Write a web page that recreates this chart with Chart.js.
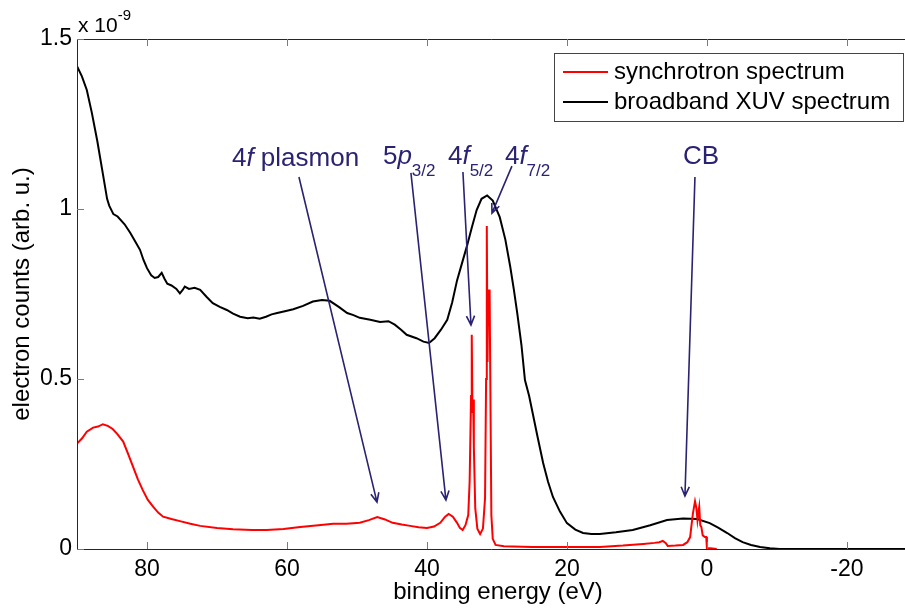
<!DOCTYPE html>
<html>
<head>
<meta charset="utf-8">
<script src="https://cdn.jsdelivr.net/npm/chart.js@4.4.1/dist/chart.umd.min.js"></script>
<style>
  html, body { margin: 0; padding: 0; background: #ffffff; }
  #wrap { width: 905px; height: 610px; position: relative; }
</style>
</head>
<body>
<div id="wrap"><canvas id="spectrum" width="905" height="610"></canvas></div>
<script>
// Binding energy (eV) and electron counts (units of 1e-9, arb. u.)
const synchrotronEnergy = [
  90, 89.3, 88.6, 87.7, 87, 86.3, 85.6, 84.9, 84.2, 83.4, 82.7, 82, 81.3, 80.6, 79.9, 79.1,
  78.4, 77.7, 76.5, 75.3, 73.8, 72.4, 70, 67.7, 65, 62.9, 60.5, 58.1, 55.5, 53.4, 51.5, 49.6,
  48.3, 47.1, 46, 44.9, 43.6, 42.4, 41.2, 40, 39, 38.1, 37.4, 36.9, 36.3, 35.7, 35.3, 34.9,
  34.5, 34.1, 33.9, 33.7, 33.6, 33.5, 33.4, 33.3, 33.1, 32.8, 32.4, 32.0, 31.7, 31.55, 31.45,
  31.35, 31.25, 31.05, 30.95, 30.8, 30.6, 30.2, 29, 25, 20, 15.3, 12, 9.1, 7.5, 6.8, 6.3, 5.9,
  5.6, 4.5, 3.4, 2.8, 2.4, 2.2, 2.0, 1.7, 1.5, 1.35, 1.2, 1.1, 0.95, 0.8, 0.6, 0.3, 0.1, 0,
  -0.5, -1.4
];
const synchrotronCounts = [
  0.31, 0.325, 0.345, 0.357, 0.36, 0.367, 0.362, 0.353, 0.337, 0.316, 0.28, 0.242, 0.205, 0.173, 0.145, 0.124,
  0.107, 0.095, 0.088, 0.082, 0.074, 0.068, 0.062, 0.058, 0.056, 0.056, 0.059, 0.065, 0.07, 0.074, 0.074, 0.077,
  0.085, 0.094, 0.087, 0.077, 0.072, 0.068, 0.064, 0.062, 0.066, 0.077, 0.095, 0.103, 0.095, 0.077, 0.062, 0.056,
  0.07, 0.1, 0.2, 0.45, 0.63, 0.40, 0.44, 0.3, 0.12, 0.06, 0.044, 0.06, 0.15, 0.5, 0.95,
  0.55, 0.76, 0.76, 0.5, 0.1, 0.03, 0.012, 0.008, 0.006, 0.006, 0.006, 0.01, 0.015, 0.018, 0.02, 0.024, 0.018,
  0.009, 0.01, 0.012, 0.02, 0.035, 0.07, 0.105, 0.14, 0.12, 0.085, 0.11, 0.124, 0.07, 0.065, 0.04, 0.035, 0.035, 0.003,
  0.002, 0
];

const xuvEnergy = [
  90, 89.3, 88.6, 87.9, 87.1, 86.4, 85.7, 85.4, 84.8, 84.2, 83.2, 82.4, 81.7, 81, 80.5, 80,
  79.4, 78.9, 78.4, 77.9, 77.5, 77.1, 76.5, 75.8, 75.3, 74.9, 74.6, 74.0, 73.2, 72.4, 71.5, 70.6,
  69.6, 68.6, 67.7, 66.7, 65.6, 64.8, 63.9, 63.0, 62.2, 61.4, 60.3, 59.1, 57.7, 56.3, 55, 53.9,
  52.6, 51.4, 50.5, 49.6, 48.1, 46.7, 45.5, 44.6, 43.7, 42.9, 41.5, 40.5, 39.7, 38.9, 38, 37.1,
  36.4, 35.7, 35, 34.3, 33.6, 32.9, 32.2, 31.4, 30.6, 29.6, 28.8, 28.1, 27.6, 27.1, 26.5, 26,
  25.4, 24.9, 24.2, 23.4, 22.7, 22, 21, 20, 18.8, 17.7, 16.5, 15.3, 13, 10.6, 8.1, 5.7,
  3.4, 1.4, -0.4, -1.6, -2.9, -4, -5.1, -6.3, -7.6, -9, -10.4, -15, -20, -25, -30
];
const xuvCounts = [
  1.42, 1.39, 1.35, 1.285, 1.20, 1.115, 1.03, 1.01, 0.985, 0.978, 0.955, 0.93, 0.905, 0.88, 0.85, 0.826,
  0.805, 0.797, 0.80, 0.812, 0.795, 0.78, 0.775, 0.765, 0.752, 0.762, 0.772, 0.765, 0.768, 0.762, 0.742, 0.723,
  0.712, 0.703, 0.692, 0.683, 0.679, 0.681, 0.677, 0.683, 0.69, 0.694, 0.699, 0.705, 0.715, 0.728, 0.732, 0.73,
  0.712, 0.694, 0.688, 0.68, 0.674, 0.668, 0.67, 0.66, 0.645, 0.63, 0.62, 0.61, 0.606, 0.62, 0.645, 0.674,
  0.725, 0.79, 0.84, 0.89, 0.945, 0.997, 1.03, 1.04, 1.025, 0.976, 0.91, 0.83, 0.765, 0.694, 0.60, 0.497,
  0.45, 0.40, 0.33, 0.253, 0.198, 0.153, 0.11, 0.076, 0.057, 0.047, 0.044, 0.044, 0.049, 0.056, 0.07, 0.085,
  0.09, 0.088, 0.076, 0.063, 0.047, 0.032, 0.02, 0.012, 0.006, 0.002, 0, 0, 0, 0, 0
];

const seriesLabels = ['synchrotron spectrum', 'broadband XUV spectrum'];
const xTickValues = [80, 60, 40, 20, 0, -20];
const yTickValues = [0, 0.5, 1, 1.5];
const yTickLabels = ['0', '0.5', '1', '1.5'];

// Peak labels: text runs plus label anchor and arrow ends in data units
const peakNotes = [
  { runs: [{ t: '4' }, { t: 'f', i: true }, { t: ' plasmon' }], at: [67.86, 1.1265], from: [58.29, 1.094], to: [47.14, 0.138] },
  { runs: [{ t: '5' }, { t: 'p', i: true }, { t: '3/2', sub: true }], at: [46.29, 1.1324], from: [42.29, 1.106], to: [37.29, 0.144] },
  { runs: [{ t: '4' }, { t: 'f', i: true }, { t: '5/2', sub: true }], at: [37.0, 1.1324], from: [34.86, 1.109], to: [33.71, 0.659] },
  { runs: [{ t: '4' }, { t: 'f', i: true }, { t: '7/2', sub: true }], at: [28.86, 1.1324], from: [27.86, 1.126], to: [30.71, 0.988] },
  { runs: [{ t: 'CB' }], at: [3.43, 1.1324], from: [1.71, 1.094], to: [3.14, 0.156] }
];

const FONT = '"Liberation Sans", Arial, Helvetica, sans-serif';
const NOTE_COLOR = '#2a2272';

function toPoints(xs, ys) {
  return xs.map((x, k) => ({ x: x, y: ys[k] }));
}

const framePlugin = {
  id: 'frame',
  afterDatasetsDraw(chart) {
    const ctx = chart.ctx;
    const a = chart.chartArea;
    const xs = chart.scales.x, ys = chart.scales.y;
    ctx.save();

    // axes box (left, top, bottom)
    ctx.strokeStyle = '#262626';
    ctx.lineWidth = 1;
    ctx.beginPath();
    ctx.moveTo(a.left + 0.5, a.bottom + 0.5);
    ctx.lineTo(a.left + 0.5, a.top + 0.5);
    ctx.lineTo(a.right, a.top + 0.5);
    ctx.moveTo(a.left + 0.5, a.bottom + 0.5);
    ctx.lineTo(a.right, a.bottom + 0.5);
    ctx.stroke();

    // inward tick marks
    ctx.strokeStyle = '#7a7a7a';
    ctx.beginPath();
    xTickValues.forEach(v => {
      const px = Math.round(xs.getPixelForValue(v)) + 0.5;
      ctx.moveTo(px, a.bottom);
      ctx.lineTo(px, a.bottom - 7);
      ctx.moveTo(px, a.top);
      ctx.lineTo(px, a.top + 7);
    });
    yTickValues.forEach(v => {
      const py = Math.round(ys.getPixelForValue(v)) + 0.5;
      ctx.moveTo(a.left, py);
      ctx.lineTo(a.left + 7, py);
    });
    ctx.stroke();

    // exponent above the y axis
    ctx.fillStyle = '#000';
    ctx.textAlign = 'left';
    ctx.textBaseline = 'alphabetic';
    ctx.font = '21px ' + FONT;
    ctx.fillText('x 10', a.left + 1, 32);
    const w = ctx.measureText('x 10').width;
    ctx.font = '15px ' + FONT;
    ctx.fillText('-9', a.left + 1 + w, 20);

    // axis titles
    ctx.font = '24px ' + FONT;
    ctx.textAlign = 'center';
    ctx.fillText('binding energy (eV)', 498, 599);
    ctx.save();
    ctx.translate(29, (a.top + a.bottom) / 2);
    ctx.rotate(-Math.PI / 2);
    ctx.fillText('electron counts (arb. u.)', 0, 0);
    ctx.restore();

    // peak annotations
    ctx.strokeStyle = NOTE_COLOR;
    ctx.fillStyle = NOTE_COLOR;
    ctx.lineWidth = 1.6;
    peakNotes.forEach(n => {
      let x = xs.getPixelForValue(n.at[0]);
      const y = ys.getPixelForValue(n.at[1]);
      ctx.textAlign = 'left';
      n.runs.forEach(r => {
        if (r.sub) {
          ctx.font = '17px ' + FONT;
          ctx.fillText(r.t, x, y + 12);
        } else {
          ctx.font = (r.i ? 'italic ' : '') + '26px ' + FONT;
          ctx.fillText(r.t, x, y);
        }
        x += ctx.measureText(r.t).width;
      });
      const x0 = xs.getPixelForValue(n.from[0]), y0 = ys.getPixelForValue(n.from[1]);
      const x1 = xs.getPixelForValue(n.to[0]), y1 = ys.getPixelForValue(n.to[1]);
      const ang = Math.atan2(y1 - y0, x1 - x0);
      const hl = 10, spread = 0.42;
      ctx.beginPath();
      ctx.moveTo(x0, y0);
      ctx.lineTo(x1, y1);
      ctx.moveTo(x1 - hl * Math.cos(ang - spread), y1 - hl * Math.sin(ang - spread));
      ctx.lineTo(x1, y1);
      ctx.lineTo(x1 - hl * Math.cos(ang + spread), y1 - hl * Math.sin(ang + spread));
      ctx.stroke();
    });

    // legend box
    const lx = 554, ly = 53, lw = 350, lh = 69;
    ctx.fillStyle = '#ffffff';
    ctx.fillRect(lx, ly, lw, lh);
    ctx.strokeStyle = '#444';
    ctx.lineWidth = 1;
    ctx.strokeRect(lx + 0.5, ly + 0.5, lw - 1, lh - 1);
    ctx.font = '24px ' + FONT;
    ctx.textAlign = 'left';
    chart.data.datasets.forEach((ds, k) => {
      const rowY = 72 + k * 30;
      ctx.strokeStyle = ds.borderColor;
      ctx.lineWidth = 2;
      ctx.beginPath();
      ctx.moveTo(563, rowY);
      ctx.lineTo(608, rowY);
      ctx.stroke();
      ctx.fillStyle = '#000';
      ctx.fillText(ds.label, 614, rowY + 7);
    });
    ctx.restore();
  }
};

new Chart(document.getElementById('spectrum'), {
  type: 'scatter',
  data: {
    datasets: [
      {
        label: seriesLabels[0],
        data: toPoints(synchrotronEnergy, synchrotronCounts),
        borderColor: '#ff0000',
        backgroundColor: '#ff0000',
        borderWidth: 2,
        showLine: true,
        pointRadius: 0,
        tension: 0
      },
      {
        label: seriesLabels[1],
        data: toPoints(xuvEnergy, xuvCounts),
        borderColor: '#000000',
        backgroundColor: '#000000',
        borderWidth: 2,
        showLine: true,
        pointRadius: 0,
        tension: 0
      }
    ]
  },
  options: {
    responsive: false,
    animation: false,
    events: [],
    layout: { padding: { top: 39, left: 0, right: 0, bottom: 0 } },
    plugins: { legend: { display: false }, tooltip: { enabled: false } },
    scales: {
      x: {
        type: 'linear',
        reverse: true,
        min: -28.3,
        max: 90,
        grid: { display: false, drawTicks: false },
        border: { display: false },
        afterBuildTicks: s => { s.ticks = xTickValues.map(v => ({ value: v })); },
        afterFit: s => { s.height = 61; },
        ticks: {
          padding: 7,
          color: '#000',
          font: { family: FONT, size: 23 },
          maxRotation: 0,
          callback: v => String(v)
        }
      },
      y: {
        type: 'linear',
        min: 0,
        max: 1.5,
        grid: { display: false, drawTicks: false },
        border: { display: false },
        afterBuildTicks: s => { s.ticks = yTickValues.map(v => ({ value: v })); },
        afterFit: s => { s.width = 77; },
        ticks: {
          padding: 5,
          color: '#000',
          font: { family: FONT, size: 23 },
          callback: v => yTickLabels[yTickValues.indexOf(v)]
        }
      }
    }
  },
  plugins: [framePlugin]
});
</script>
</body>
</html>
